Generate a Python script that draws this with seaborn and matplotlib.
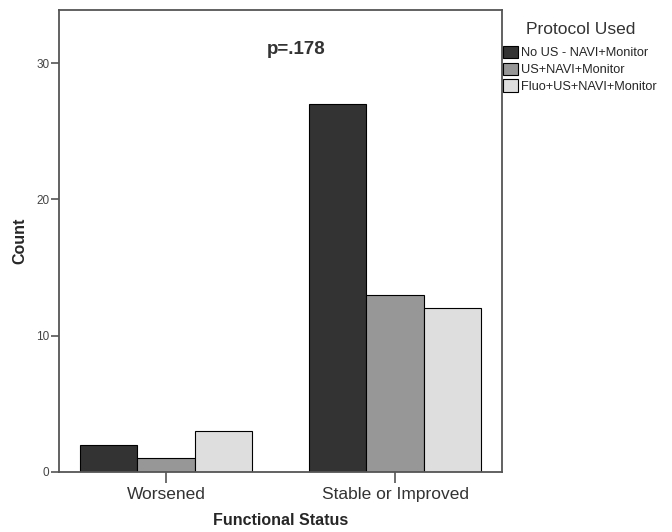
import numpy as np
import pandas as pd
import matplotlib
matplotlib.use("Agg")
import matplotlib.pyplot as plt
import seaborn as sns

# Data
status = ["Worsened", "Stable or Improved"]
protocols = ["No US - NAVI+Monitor", "US+NAVI+Monitor", "Fluo+US+NAVI+Monitor"]
counts_no_us = [2, 27]
counts_us = [1, 13]
counts_fluo = [3, 12]
colors = ["#333333", "#979797", "#dedede"]

df = pd.DataFrame({
    "Functional Status": status * 3,
    "Protocol Used": [p for p in protocols for _ in status],
    "Count": counts_no_us + counts_us + counts_fluo,
})

sns.set_style("white")
plt.rcParams["font.family"] = ["Liberation Sans", "DejaVu Sans"]

fig = plt.figure(figsize=(6.72, 5.32), dpi=100)
ax = fig.add_axes([59 / 672, 60 / 532, 443 / 672, 462 / 532])

sns.barplot(data=df, x="Functional Status", y="Count", hue="Protocol Used",
            hue_order=protocols, palette=colors, width=0.75, dodge=True,
            edgecolor="black", linewidth=0.8, ax=ax, legend=True)

ax.set_xlim(-0.467, 1.467)
ax.set_ylim(0, 33.9)
ax.set_yticks([0, 10, 20, 30])
ax.tick_params(axis="y", labelsize=8.5, labelcolor="#444444", length=6, width=1.2,
               color="#555555", direction="out", left=True, pad=1)
ax.tick_params(axis="x", labelsize=12.5, labelcolor="#333333", length=8, width=1.2,
               color="#555555", direction="out", bottom=True, pad=3)
for s in ax.spines.values():
    s.set_color("#555555")
    s.set_linewidth(1.3)

ax.set_xlabel("Functional Status", fontsize=11.5, fontweight="bold", labelpad=8)
ax.set_ylabel("Count", fontsize=11.5, fontweight="bold", labelpad=6)

ax.text(0.535, 0.915, "p=.178", transform=ax.transAxes, ha="center", va="center",
        fontsize=13.5, fontweight="bold", color="#333333")

# legend title drawn separately so the gap to the entries matches
handles, labels = ax.get_legend_handles_labels()
ax.get_legend().remove()
fig.text(581 / 672, 1 - 29 / 532, "Protocol Used", ha="center", va="center",
         fontsize=12.5, color="#333333")
fig.legend(handles, labels, loc="upper left",
           bbox_to_anchor=(503 / 672, 1 - 46 / 532), frameon=False,
           fontsize=9.2, borderpad=0, borderaxespad=0,
           handlelength=1.15, handleheight=1.1, handletextpad=0.25,
           labelspacing=0.25)

fig.savefig("out.png", dpi=100)
